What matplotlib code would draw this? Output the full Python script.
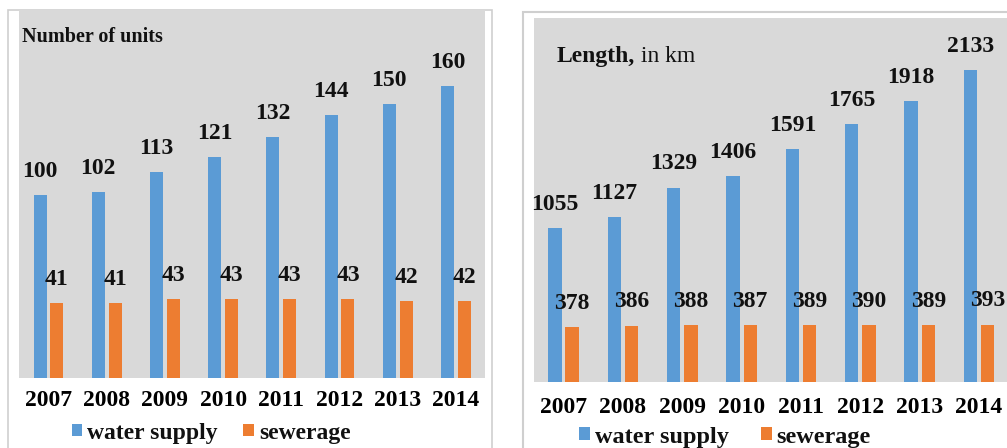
import matplotlib
matplotlib.use("Agg")
import matplotlib.pyplot as plt
from matplotlib.patches import Rectangle

# ---- data ----
years = ["2007", "2008", "2009", "2010", "2011", "2012", "2013", "2014"]
units_water = [100, 102, 113, 121, 132, 144, 150, 160]
units_sewer = [41, 41, 43, 43, 43, 43, 42, 42]
length_water = [1055, 1127, 1329, 1406, 1591, 1765, 1918, 2133]
length_sewer = [378, 386, 388, 387, 389, 390, 389, 393]
series_names = ["water supply", "sewerage"]

# ---- style ----
W, H = 1007, 448
BLUE = "#5b9bd5"
ORANGE = "#ed7d31"
PANEL = "#d9d9d9"
FRAME = "#cfcfcf"
FONT = "Liberation Serif"
FS = 17

plt.rcParams["font.family"] = [FONT, "DejaVu Serif"]
plt.rcParams["text.color"] = "#111111"

fig = plt.figure(figsize=(W / 100, H / 100), dpi=100)
fig.patch.set_facecolor("white")


def px_axes(x0, x1, ytop, ybot):
    return fig.add_axes([x0 / W, (H - ybot) / H, (x1 - x0) / W, (ybot - ytop) / H])


# panel frames
fig.add_artist(Rectangle((8 / W, -0.1), (492 - 8) / W, 1.1 - 10 / H,
                         transform=fig.transFigure, facecolor="white",
                         edgecolor=FRAME, linewidth=1.2, zorder=0))
fig.add_artist(Rectangle((523 / W, -0.1), (1020 - 523) / W, 1.1 - 12 / H,
                         transform=fig.transFigure, facecolor="white",
                         edgecolor=FRAME, linewidth=1.5, zorder=0))


def draw_panel(ax, water, sewer, ymax, xmax, tick_pad):
    x = list(range(len(years)))
    off, bw = 0.145, 0.225
    b1 = ax.bar([i - off for i in x], water, width=bw, color=BLUE, zorder=2,
                label=series_names[0])
    b2 = ax.bar([i + off for i in x], sewer, width=bw, color=ORANGE, zorder=2,
                label=series_names[1])
    for xs, vals in (([i - off for i in x], water), ([i + off for i in x], sewer)):
        for xi, v in zip(xs, vals):
            ax.annotate(str(v), (xi, v), xytext=(0, 17), textcoords="offset points",
                        ha="center", va="center", fontsize=FS, fontweight="bold",
                        annotation_clip=False, zorder=3)
    ax.set_facecolor(PANEL)
    ax.set_xlim(-0.5, xmax)
    ax.set_ylim(0, ymax)
    ax.set_yticks([])
    ax.set_xticks(x, years)
    ax.tick_params(axis="x", length=0, pad=tick_pad)
    for lab in ax.get_xticklabels():
        lab.set_fontsize(FS)
        lab.set_fontweight("bold")
    for s in ax.spines.values():
        s.set_visible(False)
    return b1, b2


def add_legend(ax, handles, cx, cy, size, colsp):
    ax.legend(handles=handles, labels=series_names, loc="center",
              bbox_to_anchor=(cx / W, 1 - cy / H), bbox_transform=fig.transFigure,
              ncol=2, frameon=False, handlelength=0.45, handleheight=0.45,
              handletextpad=0.2, columnspacing=colsp, borderpad=0, borderaxespad=0,
              prop={"family": FONT, "size": size, "weight": "bold"})


# left panel: number of units
axL = px_axes(19.4, 485, 10, 378)
hL = draw_panel(axL, units_water, units_sewer, 201.5, 7.5, 8.5)
add_legend(axL, hL, 211, 433, 17, 1.1)
fig.text(22 / W, 1 - 42 / H, "Number of units", fontsize=14.5, fontweight="bold",
         va="baseline", ha="left")

# right panel: length in km
axR = px_axes(533.8, 1007, 18, 382)
hR = draw_panel(axR, length_water, length_sewer, 2488, 7.47, 10.5)
add_legend(axR, hR, 725, 437, 17.5, 1.3)
t1 = fig.text(557 / W, 1 - 62 / H, "Length,", fontsize=FS, fontweight="bold",
              va="baseline", ha="left")
axR.annotate(" in km", xy=(1, 0), xycoords=t1, va="bottom", ha="left",
             fontsize=FS, annotation_clip=False)

fig.savefig("out.png", dpi=100, facecolor="white")
